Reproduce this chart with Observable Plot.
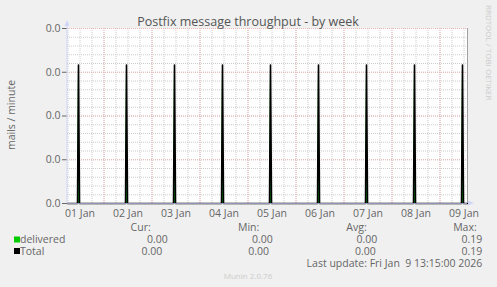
<!DOCTYPE html>
<html><head><meta charset="utf-8">
<script src="https://cdn.jsdelivr.net/npm/d3@7"></script>
<script src="https://cdn.jsdelivr.net/npm/@observablehq/plot@0.6"></script>
<style>
html,body{margin:0;padding:0;background:#f0f0f0;}
#chart svg{display:block;}
</style></head><body><div id="chart"></div>
<script>
// ---- data ----
const spikeTimes = ["2026-01-01T11:15:00Z","2026-01-02T11:15:00Z","2026-01-03T11:15:00Z",
  "2026-01-04T11:15:00Z","2026-01-05T11:15:00Z","2026-01-06T11:15:00Z",
  "2026-01-07T11:15:00Z","2026-01-08T11:15:00Z","2026-01-09T11:15:00Z"];
const deliveredPeaks = [0.19,0.19,0.19,0.19,0.19,0.19,0.19,0.19,0.19];
const totalPeaks     = [0.19,0.19,0.19,0.19,0.19,0.19,0.19,0.19,0.19];
const yTicks = [0, 0.06, 0.12, 0.18, 0.24];
const yTickLabels = ["0.0","0.0","0.0","0.0","0.0"];
const labelTimes = ["2026-01-01T12:00:00Z","2026-01-02T12:00:00Z","2026-01-03T12:00:00Z",
  "2026-01-04T12:00:00Z","2026-01-05T12:00:00Z","2026-01-06T12:00:00Z",
  "2026-01-07T12:00:00Z","2026-01-08T12:00:00Z","2026-01-09T12:00:00Z"];
const dayLabels = ["01 Jan","02 Jan","03 Jan","04 Jan","05 Jan","06 Jan","07 Jan","08 Jan","09 Jan"];
const legendNames = ["delivered","Total"];
const legendColors = ["#00cc00","#000000"];
const curVals = ["0.00","0.00"];
const minVals = ["0.00","0.00"];
const avgVals = ["0.00","0.00"];
const maxVals = ["0.19","0.19"];
const titleText = "Postfix message throughput - by week";
const yLabel = "mails / minute";
const lastUpdate = "Last update: Fri Jan  9 13:15:00 2026";
const startTime = "2026-01-01T05:45:00Z";
const endTime = "2026-01-09T13:45:00Z";

// ---- build tables ----
const start = new Date(startTime), end = new Date(endTime);
const half = 30 * 60 * 1000;
function series(peaks) {
  const rows = [{t: start, v: 0}];
  spikeTimes.forEach((s, i) => {
    const t = new Date(s);
    rows.push({t: new Date(+t - half), v: 0}, {t, v: peaks[i]}, {t: new Date(+t + half), v: 0});
  });
  rows.push({t: end, v: 0});
  return rows;
}
const delivered = series(deliveredPeaks);
const total = series(totalPeaks);
const labelDates = labelTimes.map(s => new Date(s));
const minorX = d3.utcHour.every(6).range(start, end);
const majorX = d3.utcDay.range(start, end);
const minorY = d3.range(21).map(i => i * 0.012);

const FONT = "'Open Sans', sans-serif";
const plot = Plot.plot({
  width: 497, height: 287,
  marginLeft: 67, marginRight: 30, marginTop: 28, marginBottom: 84,
  style: {fontFamily: FONT, fontSize: "10.5px", color: "#666", background: "#f0f0f0", overflow: "visible"},
  x: {type: "utc", domain: [start, end]},
  y: {domain: [0, 0.24]},
  marks: [
    Plot.frame({fill: "white", stroke: null}),
    Plot.ruleX(minorX, {stroke: "#cccccc", strokeDasharray: "1,1"}),
    Plot.ruleY(minorY, {stroke: "#cccccc", strokeDasharray: "1,1"}),
    Plot.ruleX(majorX, {stroke: "#ebb6b6", strokeDasharray: "1,1"}),
    Plot.ruleY(yTicks, {stroke: "#ebb6b6", strokeDasharray: "1,1"}),
    Plot.areaY(delivered, {x: "t", y: "v", fill: "#00cc00"}),
    Plot.line(total, {x: "t", y: "v", stroke: "#000", strokeWidth: 1.6}),
    Plot.ruleY([0], {stroke: "#9494b4"}),
    Plot.ruleX([end], {stroke: "#a0a0a0"}),
    Plot.axisX(labelDates, {tickSize: 0, tickPadding: 6, label: null,
      tickFormat: d => dayLabels[labelDates.findIndex(t => +t === +d)]}),
    Plot.axisY(yTicks, {tickSize: 5, tickPadding: 2, label: null,
      tickFormat: d => yTickLabels[yTicks.indexOf(d)]})
  ]
});
document.getElementById("chart").appendChild(plot);

// ---- decorations ----
const svg = d3.select(plot);
const g = svg.append("g");
const AX = "#cfd6f8";
g.append("line").attr("x1", 67).attr("x2", 67).attr("y1", 203).attr("y2", 24).attr("stroke", AX);
g.append("path").attr("d", "M64.5,26 L67,20 L69.5,26 Z").attr("fill", AX);
g.append("path").attr("d", "M468,200.5 L474,203 L468,205.5 Z").attr("fill", AX);

function txt(x, y, s, opts = {}) {
  return g.append("text").attr("x", x).attr("y", y).text(s)
    .attr("font-family", FONT).attr("font-size", opts.size || "10.5px")
    .attr("fill", opts.fill || "#666").attr("text-anchor", opts.anchor || "start")
    .attr("transform", opts.transform || null)
    .style("white-space", "pre").attr("xml:space", "preserve");
}
txt(248, 25.5, titleText, {size: "12.5px", anchor: "middle", fill: "#555"});
txt(0, 0, yLabel, {anchor: "middle", transform: "translate(15,115) rotate(-90)"});
txt(0, 0, "RRDTOOL / TOBI OETIKER", {size: "8px", fill: "#cccccc", anchor: "start", transform: "translate(486,5) rotate(90)"});

txt(150.7, 231, "Cur:", {anchor: "end"});
txt(259.3, 231, "Min:", {anchor: "end"});
txt(366.7, 231, "Avg:", {anchor: "end"});
txt(476.7, 231, "Max:", {anchor: "end"});
const rowY = [243, 254.5];
const curEnd = [167.7, 162.3], minEnd = [272.7, 269], avgEnd = [377.3, 375.7], maxEnd = [482.3, 482.3];
legendNames.forEach((n, i) => {
  g.append("rect").attr("x", 14).attr("y", rowY[i] - 6.5).attr("width", 6).attr("height", 6).attr("fill", legendColors[i]);
  txt(20, rowY[i], n);
  txt(curEnd[i], rowY[i], curVals[i], {anchor: "end"});
  txt(minEnd[i], rowY[i], minVals[i], {anchor: "end"});
  txt(avgEnd[i], rowY[i], avgVals[i], {anchor: "end"});
  txt(maxEnd[i], rowY[i], maxVals[i], {anchor: "end"});
});
txt(482.3, 267, lastUpdate, {anchor: "end"});
txt(248, 278.5, "Munin 2.0.76", {size: "8px", fill: "#cccccc", anchor: "middle"});
</script></body></html>
